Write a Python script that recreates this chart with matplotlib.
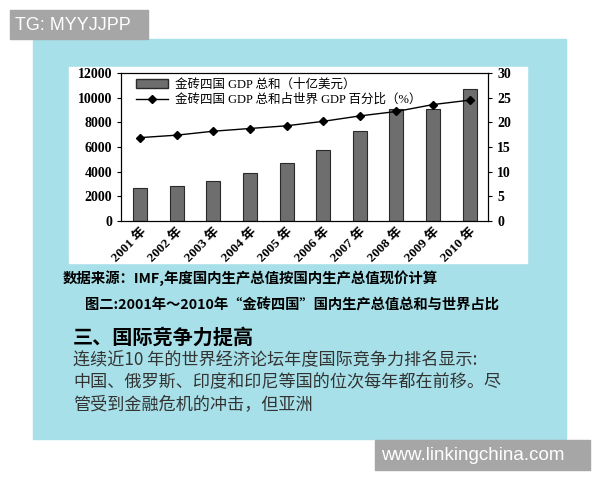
import numpy as np
import matplotlib.pyplot as plt
from matplotlib.patches import Rectangle
from matplotlib.lines import Line2D

plt.rcParams['font.family'] = ['Liberation Serif', 'Noto Sans CJK SC', 'DejaVu Sans']

years = ['2001 年', '2002 年', '2003 年', '2004 年', '2005 年',
         '2006 年', '2007 年', '2008 年', '2009 年', '2010 年']
gdp_total = [2680, 2820, 3220, 3900, 4720, 5720, 7320, 9080, 9060, 10700]
world_share = [16.9, 17.4, 18.2, 18.75, 19.3, 20.2, 21.3, 22.2, 23.6, 24.5]
bar_label = '金砖四国 GDP 总和（十亿美元）'
line_label = '金砖四国 GDP 总和占世界 GDP 百分比（%）'

W, H = 600, 480


def box(x0, y0, x1, y1):
    # pixel coords (top-left origin) -> figure fraction rect
    return (x0 / W, 1 - y1 / H), (x1 - x0) / W, (y1 - y0) / H


fig = plt.figure(figsize=(6, 4.8), dpi=100)
fig.patch.set_facecolor('white')

# page background and white chart card
xy, w, h = box(33, 39, 566, 439)
fig.add_artist(Rectangle(xy, w, h, transform=fig.transFigure, color='#a7e0e8', zorder=0))
xy, w, h = box(69, 67, 527, 263)
fig.add_artist(Rectangle(xy, w, h, transform=fig.transFigure, color='white', zorder=1))

ax = fig.add_axes([121 / W, 1 - 221 / H, (488 - 121) / W, (221 - 73) / H])
ax.set_facecolor('white')
ax.set_zorder(2)
x = np.arange(len(years))
ax.bar(x, gdp_total, 0.38, color='#6e6e6e', edgecolor='#2a2a2a', linewidth=0.8)
ax.set_xlim(-0.52, 9.5)
ax.set_ylim(0, 12000)
ax.set_yticks(np.arange(0, 12001, 2000))
ax.set_xticks(x)
ax.set_xticklabels(years, rotation=45, ha='right', rotation_mode='anchor', fontsize=9.5,
                   fontweight='bold')
ax.tick_params(axis='y', labelsize=10, length=3)
ax.tick_params(axis='x', length=0, pad=3)
for lab in ax.get_yticklabels():
    lab.set_fontweight('bold')

ax2 = ax.twinx()
ax2.plot(x, world_share, color='black', linewidth=1, marker='D', markersize=4.5)
ax2.set_ylim(0, 30)
ax2.set_yticks(np.arange(0, 31, 5))
ax2.tick_params(axis='y', labelsize=10, length=3)
for lab in ax2.get_yticklabels():
    lab.set_fontweight('bold')

handles = [Rectangle((0, 0), 1, 1, facecolor='#6e6e6e', edgecolor='#2a2a2a'),
           Line2D([], [], color='black', marker='D', markersize=4.5, linewidth=1)]
ax.legend(handles, [bar_label, line_label], loc='upper left', frameon=False,
          fontsize=9, bbox_to_anchor=(0.02, 1.01), handlelength=2.6,
          handletextpad=0.5, labelspacing=0.2, borderaxespad=0.2)

# captions and body text
cjk = ['Noto Sans CJK SC', 'DejaVu Sans']
fig.text(63 / W, 1 - 278 / H, '数据来源：IMF,年度国内生产总值按国内生产总值现价计算',
         fontsize=10.4, fontweight='bold', family=cjk, va='center', ha='left')
fig.text(85 / W, 1 - 305 / H, '图二:2001年～2010年“金砖四国”国内生产总值总和与世界占比',
         fontsize=10.3, fontweight='bold', family=cjk, va='center', ha='left')
fig.text(73 / W, 1 - 337 / H, '三、国际竞争力提高',
         fontsize=14.5, fontweight='bold', family=cjk, va='center', ha='left')
body = ['连续近10 年的世界经济论坛年度国际竞争力排名显示:',
        '中国、俄罗斯、印度和印尼等国的位次每年都在前移。尽',
        '管受到金融危机的冲击，但亚洲']
for i, line in enumerate(body):
    fig.text(73 / W, 1 - (360 + 22.5 * i) / H, line, fontsize=12.3, color='#333333',
             family=cjk, va='center', ha='left')

# watermark tags
xy, w, h = box(10, 10, 148, 39)
fig.add_artist(Rectangle(xy, w, h, transform=fig.transFigure, color='#a6a6a6', zorder=3))
fig.text(15 / W, 1 - 25 / H, 'TG: MYYJJPP', fontsize=13, color='white',
         family='Liberation Sans', va='center', ha='left', zorder=4)
xy, w, h = box(375, 440, 590, 470)
fig.add_artist(Rectangle(xy, w, h, transform=fig.transFigure, color='#a6a6a6', zorder=3))
fig.text(381 / W, 1 - 455 / H, 'www.linkingchina.com', fontsize=13.5, color='white',
         family='Liberation Sans', va='center', ha='left', zorder=4)

fig.savefig('out.png', dpi=100)
